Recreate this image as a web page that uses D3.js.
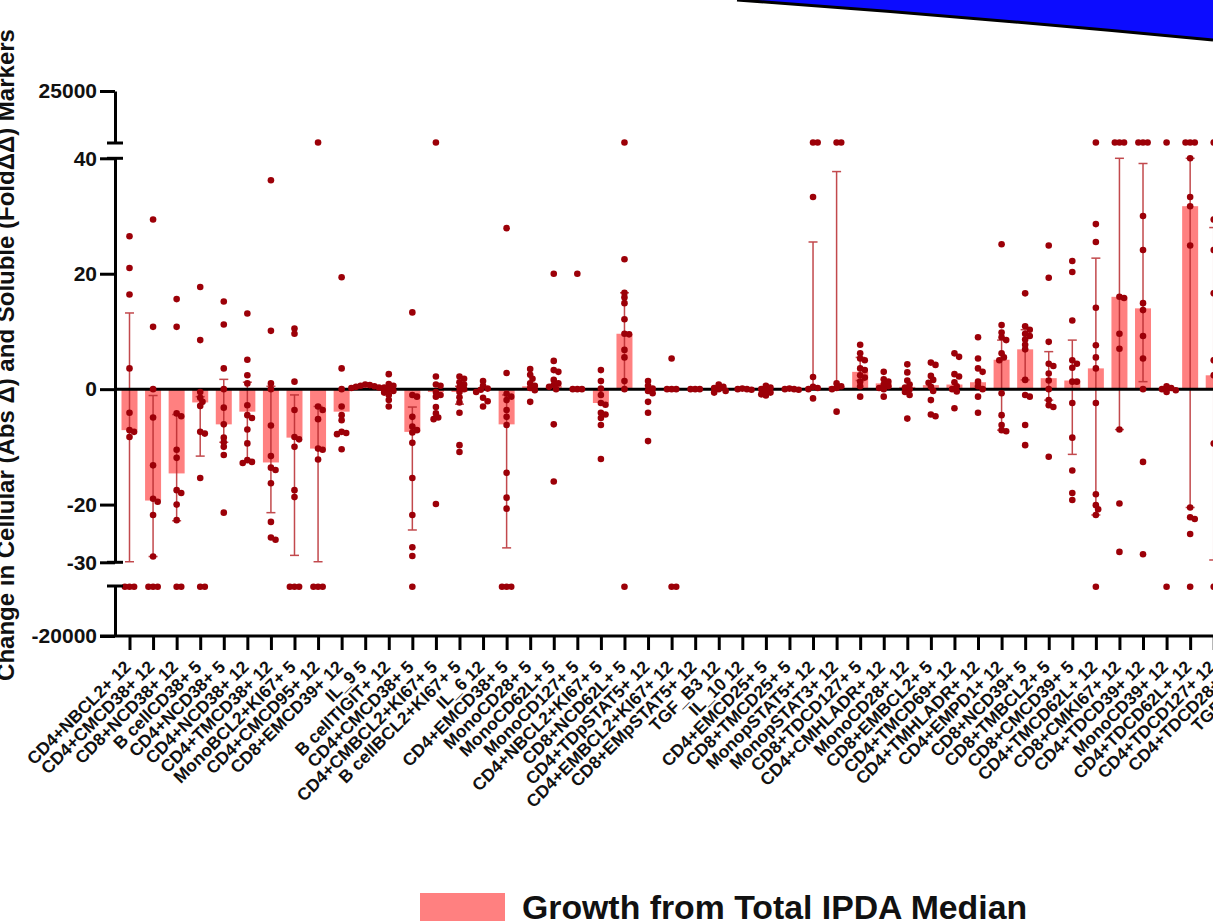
<!DOCTYPE html>
<html>
<head>
<meta charset="utf-8">
<script src="https://cdn.jsdelivr.net/npm/d3@7"></script>
<style>
  html, body { margin: 0; padding: 0; background: #fff; }
  svg { display: block; font-family: "Liberation Sans", Arial, Helvetica, sans-serif; }
</style>
</head>
<body>
<svg id="chart" width="1213" height="921"></svg>
<script>
// ---- data -------------------------------------------------------------
const categories = [
  "CD4+NBCL2+ 12", "CD4+CMCD38+ 12", "CD8+NCD38+ 12", "B cellCD38+ 5", "CD4+NCD38+ 5",
  "CD4+NCD38+ 12", "CD4+TMCD38+ 12", "MonoBCL2+KI67+ 5", "CD4+CMCD95+ 12", "CD8+EMCD39+ 12",
  "IL_9 5", "B cellTIGIT+ 12", "CD4+CMCD38+ 5", "CD4+CMBCL2+KI67+ 5", "B cellBCL2+KI67+ 5",
  "IL_6 12", "CD4+EMCD38+ 5", "MonoCD28+ 5", "MonoCD62L+ 5", "MonoCD127+ 5",
  "CD4+NBCL2+KI67+ 5", "CD8+NCD62L+ 5", "CD4+TDpSTAT5+ 12", "CD4+EMBCL2+KI67+ 12", "CD8+EMpSTAT5+ 12",
  "TGF_B3 12", "IL_10 12", "CD4+EMCD25+ 5", "CD8+TMCD25+ 5", "MonopSTAT5+ 12",
  "MonopSTAT3+ 12", "CD8+TDCD127+ 5", "CD4+CMHLADR+ 12", "MonoCD28+ 12", "CD8+EMBCL2+ 5",
  "CD4+TMCD69+ 12", "CD4+TMHLADR+ 12", "CD4+EMPD1+ 12", "CD8+NCD39+ 5", "CD8+TMBCL2+ 5",
  "CD8+CMCD39+ 5", "CD4+TMCD62L+ 12", "CD8+CMKI67+ 12", "CD4+TDCD39+ 12", "MonoCD39+ 12",
  "CD4+TDCD62L+ 12", "CD4+TDCD127+ 12", "CD4+TDCD28+ 12", "TGF_B1 12"
];

// median change per marker (bar height)
const medians = [
  -7.1, -19.3, -14.6, -2.3, -6.1, -3.9, -12.7, -8.4, -10.3, -3.9,
  0.4, 0, -7.4, -0.5, -0.5, 0, -6.1, 0.5, 0.6, 0,
  -2.4, 9.6, 0, 0, 0, 0.2, 0, -0.1, 0, 0.3,
  0.5, 3, 1, 0.4, 0.7, 0.8, 1.2, 5.1, 6.9, 1.9,
  1.5, 3.6, 16, 14, 0, 31.7, 2.4, 0, 0
];

// error bar limits (null = no bar drawn)
const errLow = [
  -29.9, -29, -22.8, -11.6, -9.2, -12.6, -21.4, -28.8, -29.9, null,
  null, null, -24.4, null, -2.6, null, -27.5, null, null, null,
  null, 0, null, null, null, null, null, null, null, 0,
  0, 1.5, null, null, null, null, null, -7.1, 1.6, -1.9,
  -11.3, -21.8, -7, 1.3, null, -20.5, -29.6, null, null
];
const errHigh = [
  13.2, -1.1, -4.4, -1.3, 1.7, 1.2, 0.5, -1.0, -3, null,
  null, null, -3.1, null, 0.5, null, -1.0, null, null, null,
  null, 16.7, null, null, null, null, null, null, null, 25.5,
  37.7, 5.5, null, null, null, null, null, 8.5, 10.3, 6.5,
  8.5, 22.7, 40, 39.1, null, 40, 28, null, null
];

// values beyond the axis breaks
const HI = 300;    // above 40, shown on the upper segment
const LO = -300;   // below -30, shown on the lower segment

// individual participant values per marker
const pointValues = [
  [26.5, 21, 16.4, 3.6, -4.1, -7.1, -7.4, -8.3, LO, LO, LO],
  [29.4, 10.8, 0, -4.9, -13.2, -19, -19.5, -21.8, -29, LO, LO, LO],
  [15.6, 10.8, -4.2, -4.7, -10.5, -11.9, -17.5, -18, -20, -22.7, LO, LO],
  [17.7, 8.5, -0.5, -1.5, -2.2, -2.9, -7.4, -7.7, -15.4, LO, LO],
  [15.2, 11.2, 3.6, 0, -3.2, -6.1, -8.4, -9.2, -10, -11.4, -21.4],
  [13.1, 5.1, 2.4, 1, -2.8, -4.5, -5, -7, -9.4, -12.3, -12.6, -12.8],
  [36.2, 10.1, 1, 0, -6.3, -11.6, -13.6, -14, -16.3, -23, -25.7, -26.1],
  [10.5, 9.6, 1.3, -3.6, -8.3, -8.7, -10, -17.5, -18.7, LO, LO, LO],
  [HI, -3, -3.6, -5.2, -10.3, -10.5, -12.2, LO, LO, LO],
  [19.4, 3.6, 0, -3, -4.5, -5.4, -7.4, -7.6, -7.8, -10.4],
  [0.8, 0.7, 0.6, 0.5, 0.4, 0.3, 0.2, 0.1],
  [2.6, 0.9, 0.6, 0.3, 0, -0.3, -0.6, -1, -1.9, -3],
  [13.3, -1, -1.3, -4.8, -6.5, -7.1, -7.5, -9.3, -15.4, -21.8, -27.4, -28.9, LO],
  [HI, 2.2, 0.8, 0.6, -0.5, -1, -1.3, -3.1, -4.2, -4.9, -5.2, -19.9],
  [2.2, 1.8, 1.2, 0.8, 0.3, 0, -0.5, -1.4, -2.3, -4.1, -9.7, -10.9],
  [1.4, 0.6, 0.1, -0.1, -0.5, -1.5, -2.1, -3],
  [27.9, 2.8, -0.8, -1.3, -1.9, -3.6, -4.8, -6.2, -14.5, -18.8, -20.7, LO, LO, LO],
  [3.5, 2.5, 1.8, 1, 0.6, 0.2, -0.2, -2.2],
  [20, 4.9, 3.3, 3, 1.6, 1, 0.7, 0.4, 0, -6.1, -16],
  [20, 0, 0, 0],
  [3.3, 1.4, 0.1, -1, -2.4, -2.7, -4.1, -4.4, -5, -6.2, -12.1],
  [HI, 22.5, 16.7, 15.9, 14.9, 12.1, 9.6, 9.5, 6.8, 5.5, 1.4, 0, LO],
  [1.4, 0.6, 0.1, -0.3, -0.7, -2.2, -4.1, -9],
  [5.3, 0, 0, 0, LO, LO],
  [0, 0, 0],
  [0.8, 0.4, 0.2, 0, -0.3, -0.6],
  [0.1, 0, 0, -0.1],
  [0.6, 0.3, 0, -0.3, -0.6, -0.9, -1.1],
  [0.1, 0, 0, -0.1],
  [HI, HI, 33.3, 2.1, 0.4, 0.2, 0, -1.6],
  [HI, HI, 1, 0.5, 0.2, 0, -3.9],
  [7.7, 6.2, 5.3, 5, 3.6, 3.3, 2.4, 2, 1.3, 0.5, -1.3],
  [3, 1.7, 1.3, 0.8, 0.5, 0.2, 0, -1.3],
  [4.3, 2.9, 1.5, 0.8, 0.3, 0, -0.5, -1, -5.1],
  [4.6, 4.2, 2.3, 1.6, 1.1, 0.4, -0.3, -1.9, -4.4, -4.7],
  [6.2, 5.6, 2.6, 2.2, 1.2, 0.5, 0, -0.4, -3.3],
  [9, 5.3, 3.6, 3, 1.3, 0.5, 0, -1.3, -4.1],
  [25.1, 11.1, 9.8, 9, 8.5, 6.2, 5.5, 5, -0.7, -4.5, -6.2, -7.1, -7.3],
  [16.6, 10.9, 10.3, 9.6, 9.2, 8.6, 7.7, 6.9, 1.6, -1, -1.3, -6.2, -9.7],
  [24.9, 19.3, 8.2, 4.4, 4, 2.7, 1.5, 0, -1.9, -2.8, -3.1, -11.7],
  [22.2, 20.3, 11.9, 5, 4.4, 3.7, 1.3, 1.3, -2.4, -8.4, -14.1, -18, -19.2],
  [HI, 28.6, 25.5, 14.1, 7.6, 5.5, 3.6, -2.4, -18.2, -20.1, -20.8, -21.8, LO],
  [HI, HI, HI, 16, 15.8, 9.6, 7, -7, -19.8, -28.2],
  [HI, HI, HI, 30, 24.1, 14.9, 13.7, 9.2, 5.3, 0, -12.6, -28.6],
  [HI, 0.5, 0.2, 0, -0.2, -0.5, LO],
  [HI, HI, HI, 40, 33.3, 31.7, 24.9, -20.5, -22.2, -22.5, -25.1, LO],
  [HI, 29.4, 24.1, 16.6, 5, 2.4, -9.4, LO],
  [0.3, 0, -0.3],
  [0.2, 0, -0.2]
];

const ticksUpper = [25000];
const ticksMiddle = [40, 20, 0, -20, -30];
const ticksLower = [-20000];
const yAxisTitle = "Change in Cellular (Abs \u0394) and Soluble (Fold\u0394\u0394) Markers";
const legendLabel = "Growth from Total IPDA Median";

// ---- layout ------------------------------------------------------------
const W = 1213, H = 921;
const axisX = 115;
const barColor = "#ff8080";
const dotColor = "#9c0008";
const errColor = "#b82a2e";

const svg = d3.select("#chart");

// broken y axis: three linear pieces
const yUpper = d3.scaleLinear().domain([40, 25000]).range([143, 91]);
const yMiddle = d3.scaleLinear().domain([-30, 40]).range([562.3, 158.3]);
const yLower = d3.scaleLinear().domain([-20000, -30]).range([636, 586]);
const y = v => v > 40 ? yUpper(v) : (v < -30 ? yLower(v) : yMiddle(v));

const x = d3.scalePoint().domain(categories).range([129.5, 129.5 + 48 * 23.57]);
const barW = 16, capW = 9;

// decorative wedge in the top-right corner
const wedge = d3.path();
wedge.moveTo(737, 0);
wedge.quadraticCurveTo(975, 17, W, 40);
svg.append("path").attr("d", wedge.toString() + `L${W},0Z`).attr("fill", "#0c0cff");
svg.append("path").attr("d", wedge.toString()).attr("fill", "none")
  .attr("stroke", "#000").attr("stroke-width", 3);

const rows = categories.map((c, i) => ({
  c, median: medians[i], lo: errLow[i], hi: errHigh[i], values: pointValues[i]
}));

// bars from zero to the median
svg.append("g").selectAll("rect").data(rows).join("rect")
  .attr("x", d => x(d.c) - barW / 2)
  .attr("width", barW)
  .attr("y", d => Math.min(y(0), y(d.median)))
  .attr("height", d => Math.abs(y(d.median) - y(0)))
  .attr("fill", barColor);

// error bars
const eg = svg.append("g").attr("stroke", errColor).attr("stroke-width", 1.5).attr("opacity", 0.85);
rows.filter(d => d.lo !== null).forEach(d => {
  const cx = x(d.c);
  eg.append("line").attr("x1", cx).attr("x2", cx).attr("y1", y(d.lo)).attr("y2", y(d.hi));
  [d.lo, d.hi].forEach(v => eg.append("line")
    .attr("x1", cx - capW / 2).attr("x2", cx + capW / 2).attr("y1", y(v)).attr("y2", y(v)));
});

// zero reference line
svg.append("line").attr("x1", axisX).attr("x2", W).attr("y1", y(0)).attr("y2", y(0))
  .attr("stroke", "#000").attr("stroke-width", 3);

// scatter of individual values, spread sideways where they overlap
function swarm(values, cx) {
  const pts = values.map(v => ({ v, cy: y(v), dx: 0 })).sort((a, b) => a.cy - b.cy);
  const placed = [], minD = 4.6, step = 2.3;
  pts.forEach(p => {
    for (let i = 0; i < 60; i++) {
      const k = i === 0 ? 0 : (i % 2 ? Math.ceil(i / 2) : -Math.ceil(i / 2));
      const dx = k * step;
      if (placed.every(q => (q.dx - dx) ** 2 + (q.cy - p.cy) ** 2 >= minD * minD)) { p.dx = dx; break; }
    }
    placed.push(p);
  });
  return pts.map(p => ({ cx: cx + p.dx, cy: p.cy }));
}
const dots = rows.flatMap(d => swarm(d.values, x(d.c)));
svg.append("g").selectAll("circle").data(dots).join("circle")
  .attr("cx", d => d.cx).attr("cy", d => d.cy).attr("r", 3.3).attr("fill", dotColor);

// y axis pieces
function axisPiece(scale, ticks) {
  const g = svg.append("g").attr("transform", `translate(${axisX},0)`)
    .call(d3.axisLeft(scale).tickValues(ticks).tickSize(15).tickSizeOuter(0).tickFormat(d => String(d)));
  g.select(".domain").attr("stroke-width", 3);
  g.selectAll(".tick line").attr("stroke-width", 3);
  g.selectAll(".tick text").attr("x", -18)
    .style("font-family", '"Liberation Sans", Arial, sans-serif')
    .style("font-size", "21px").style("font-weight", "bold").attr("fill", "#111");
  return g;
}
axisPiece(yUpper, ticksUpper);
axisPiece(yMiddle, ticksMiddle);
axisPiece(yLower, ticksLower);

// end caps at the axis breaks
[yUpper(40), yMiddle(40), yMiddle(-30), yLower(-30)].forEach(v => {
  svg.append("line").attr("x1", axisX - 8).attr("x2", axisX + 8).attr("y1", v).attr("y2", v)
    .attr("stroke", "#000").attr("stroke-width", 3);
});

// x axis
const gx = svg.append("g").attr("transform", `translate(0,${yLower(-20000)})`)
  .call(d3.axisBottom(x).tickSize(14).tickSizeOuter(0));
gx.select(".domain").remove();
gx.selectAll(".tick line").attr("stroke-width", 3);
gx.selectAll(".tick text")
  .attr("y", 0).attr("dy", 0)
  .attr("transform", "translate(2,32) rotate(-45)")
  .style("text-anchor", "end")
  .style("font-family", '"Liberation Sans", Arial, sans-serif')
  .style("font-size", "17.5px").style("font-weight", "bold").attr("fill", "#111");
svg.append("line").attr("x1", axisX - 15).attr("x2", W)
  .attr("y1", yLower(-20000)).attr("y2", yLower(-20000))
  .attr("stroke", "#000").attr("stroke-width", 3);

// y axis title (runs past the left edge of the canvas)
svg.append("text")
  .attr("transform", "translate(14,355) rotate(-90)")
  .attr("text-anchor", "middle")
  .style("font-size", "24px").style("font-weight", "bold").attr("fill", "#111")
  .text(yAxisTitle);

// legend
svg.append("rect").attr("x", 420).attr("y", 893).attr("width", 85).attr("height", 40).attr("fill", barColor);
svg.append("text").attr("x", 522).attr("y", 919)
  .style("font-size", "33.8px").style("font-weight", "bold").attr("fill", "#111")
  .text(legendLabel);
</script>
</body>
</html>
